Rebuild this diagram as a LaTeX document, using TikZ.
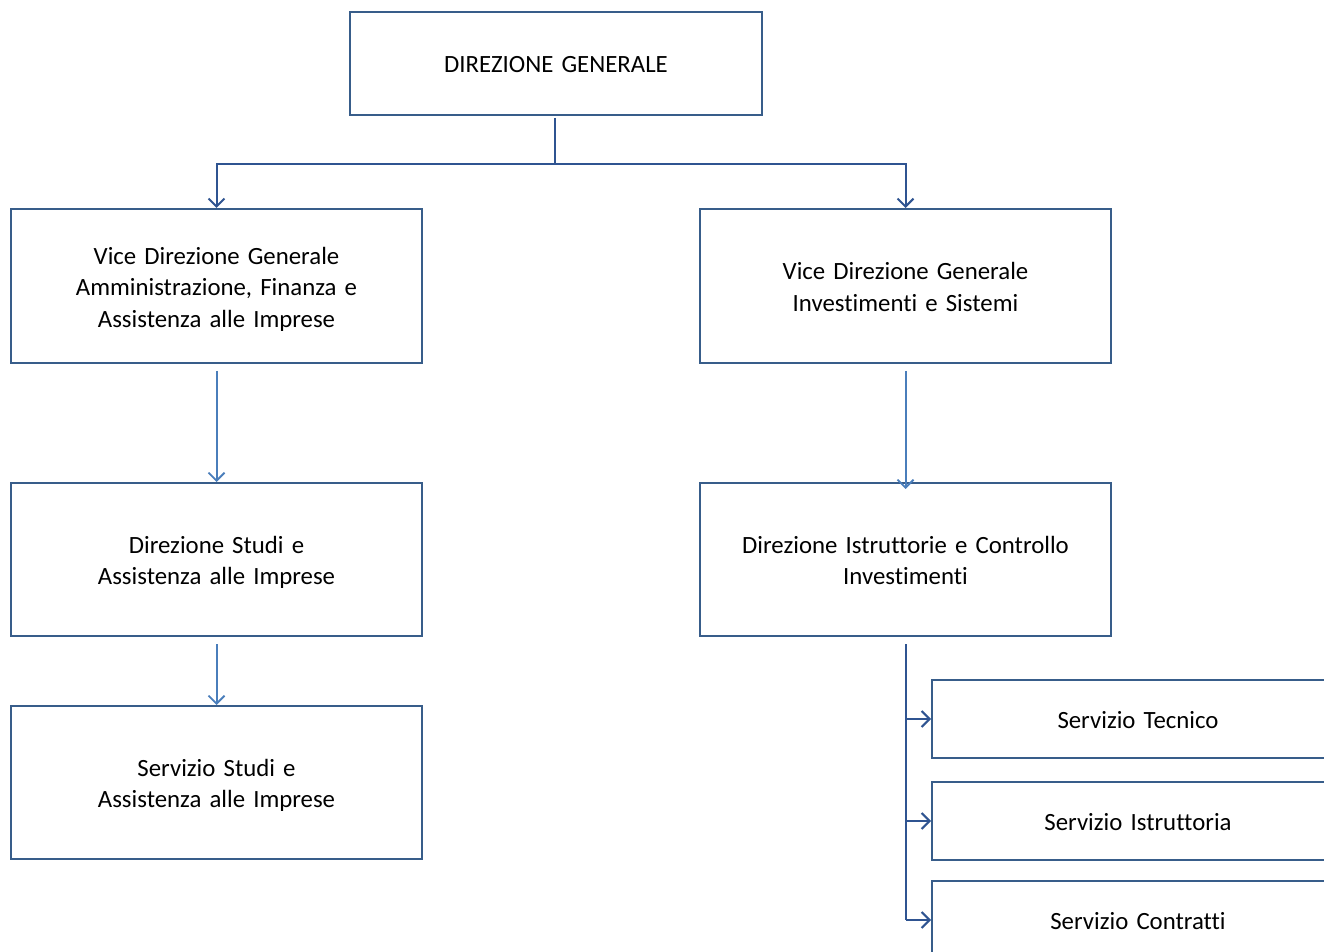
\documentclass[tikz,border=0pt]{standalone}
\usepackage{fontspec}
\setmainfont{Carlito}[Ligatures=NoCommon,WordSpace=1.45]
\usetikzlibrary{arrows.meta}
\definecolor{boxc}{HTML}{385D8A}
\definecolor{darkc}{HTML}{2F5491}
\definecolor{lightc}{HTML}{4A7EBB}
\begin{document}
\begin{tikzpicture}[x=0.5pt,y=-0.5pt,
  box/.style={draw=boxc,line width=1pt,inner sep=0pt},
  txt/.style={align=center,inner sep=0pt,text=black,
    font=\fontsize{12.4}{15.75}\selectfont},
  big/.style={box,minimum width=205.5pt,minimum height=77pt},
  small/.style={box,minimum width=206pt,minimum height=39pt},
  dk/.style={draw=darkc,line width=1pt,-{Straight Barb[length=4pt,width=8pt,line width=1pt]}},
  lt/.style={draw=lightc,line width=1pt,-{Straight Barb[length=4pt,width=8pt,line width=0.9pt]}}]
\useasboundingbox (0,0) rectangle (1324,952);
\clip (0,0) rectangle (1324,952);
\node[box,minimum width=206pt,minimum height=51.5pt] (dg) at (556,63.5) {};
\node[big] (vl) at (216.5,286) {};
\node[big] (vr) at (905.5,286) {};
\node[big,minimum height=76.5pt] (ds) at (216.5,559.5) {};
\node[big,minimum height=76.5pt] (di) at (905.5,559.5) {};
\node[big,minimum height=76.5pt] (ss) at (216.5,782.5) {};
\node[small] (st) at (1138,719) {};
\node[small] (si) at (1138,821) {};
\node[small] (sc) at (1138,920) {};
\node[txt] (dg-t) at ([yshift=-0.5pt]dg.center) {DIREZIONE GENERALE};
\node[txt] (vl-t) at ([yshift=-1.5pt]vl.center) {Vice Direzione Generale\\Amministrazione, Finanza e\\Assistenza alle Imprese};
\node[txt] (vr-t) at ([yshift=-0.5pt]vr.center) {Vice Direzione Generale\\Investimenti e Sistemi};
\node[txt] (ds-t) at ([yshift=-1.5pt]ds.center) {Direzione Studi e\\Assistenza alle Imprese};
\node[txt] (di-t) at ([yshift=-0.5pt]di.center) {Direzione Istruttorie e Controllo\\Investimenti};
\node[txt] (ss-t) at ([yshift=-1.5pt]ss.center) {Servizio Studi e\\Assistenza alle Imprese};
\node[txt] (st-t) at ([yshift=-0.5pt]st.center) {Servizio Tecnico};
\node[txt] (si-t) at ([yshift=-0.5pt]si.center) {Servizio Istruttoria};
\node[txt] (sc-t) at ([yshift=-0.5pt]sc.center) {Servizio Contratti};
\coordinate (j) at (555,164);
\draw[draw=darkc,line width=1pt] ([yshift=-1pt]dg.south -| j) -- (j);
\draw[dk] (j) -| (vl.north);
\draw[dk] (j) -| (vr.north);
\draw[lt] ([yshift=-3.5pt]vl.south) -- (ds.north);
\draw[lt] ([yshift=-3.5pt]vr.south) -- ([yshift=-3.5pt]di.north);
\draw[lt] ([yshift=-3.5pt]ds.south) -- (ss.north);
\coordinate (b) at ([yshift=-3.5pt]di.south);
\draw[draw=darkc,line width=1pt] (b) -- (b |- sc.west);
\draw[dk] (b |- st.west) -- (st.west);
\draw[dk] (b |- si.west) -- (si.west);
\draw[dk] (b |- sc.west) -- (sc.west);
\end{tikzpicture}
\end{document}
